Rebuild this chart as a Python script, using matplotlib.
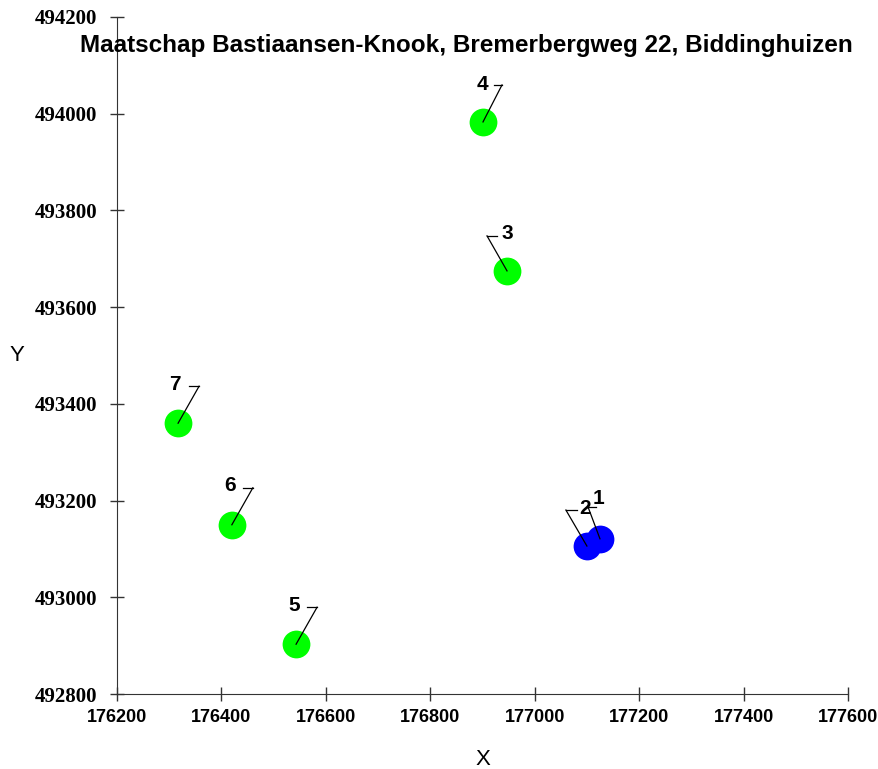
import matplotlib.pyplot as plt
import matplotlib.transforms as mtransforms

# Punten (RD-coordinaten)
ids = ['1', '2', '3', '4', '5', '6', '7']
x = [177125, 177100, 176947, 176901, 176543, 176420, 176317]
y = [493121, 493106, 493675, 493983, 492903, 493150, 493360]
groep = ['b', 'b', 'g', 'g', 'g', 'g', 'g']

xticks = [176200, 176400, 176600, 176800, 177000, 177200, 177400, 177600]
yticks = [492800, 493000, 493200, 493400, 493600, 493800, 494000, 494200]
titel = 'Maatschap Bastiaansen-Knook, Bremerbergweg 22, Biddinghuizen'

kleuren = {'b': '#0000ff', 'g': '#00ff00'}

# label-leiders: (knik dx, dy), (eind dx, dy), (tekst dx, dy) in pixels, y naar beneden
leiders = {
    '1': ((-12, -32), (-4, -32), (-1, -40)),
    '2': ((-21, -36), (-10, -36), (-2, -38)),
    '3': ((-20, -35), (-10, -35), (0, -37)),
    '4': ((19, -37), (11, -37), (-1, -37)),
    '5': ((21, -37), (11, -37), (-2, -39)),
    '6': ((21, -37), (11, -37), (-2, -39)),
    '7': ((21, -37), (11, -37), (-3, -39)),
}

fig = plt.figure(figsize=(8.79, 7.69), dpi=100)
ax = fig.add_axes([0.1331, 0.0975, 0.8316, 0.8804])
ax.set_xlim(176200, 177600)
ax.set_ylim(492800, 494200)

for xi, yi, g in zip(x, y, groep):
    ax.plot(xi, yi, 'o', color=kleuren[g], markersize=20, markeredgewidth=0, zorder=3)

def verschuif(dx, dy):
    return ax.transData + mtransforms.ScaledTranslation(dx / 100, -dy / 100, fig.dpi_scale_trans)

for i, xi, yi in zip(ids, x, y):
    knik, eind, tekst = leiders[i]
    for a, b in [((0, 0), knik), (knik, eind)]:
        p1 = verschuif(*a).transform((xi, yi))
        p2 = verschuif(*b).transform((xi, yi))
        ax.add_line(plt.Line2D([p1[0], p2[0]], [p1[1], p2[1]],
                               transform=mtransforms.IdentityTransform(),
                               color='black', lw=0.9, zorder=4, clip_on=False))
    ax.text(xi, yi, i, transform=verschuif(*tekst), ha='center', va='center', fontsize=15,
            fontweight='bold', family='Liberation Sans', zorder=5)

ax.set_xticks(xticks)
ax.set_yticks(yticks)
ax.set_xticklabels([str(v) for v in xticks], fontsize=13, fontweight='bold', family='Liberation Sans')
ax.set_yticklabels([str(v) for v in yticks], fontsize=15, fontweight='bold', family='Liberation Serif')
ax.tick_params(direction='inout', length=10, width=1, color='#333333', pad=6)
ax.tick_params(axis='y', pad=9)
ax.spines['top'].set_visible(False)
ax.spines['right'].set_visible(False)
ax.spines['left'].set_color('#333333')
ax.spines['bottom'].set_color('#333333')

ax.set_xlabel('X', fontsize=16, family='Liberation Sans', labelpad=16)
ax.set_ylabel('Y', fontsize=16, family='Liberation Sans', rotation=0, ha='center', va='center')
ax.yaxis.set_label_coords(-0.137, 0.5)
ax.text(0.478, 0.958, titel, transform=ax.transAxes, ha='center', va='center',
        fontsize=17.5, fontweight='bold', family='Liberation Sans')

fig.savefig('out.png', dpi=100)
